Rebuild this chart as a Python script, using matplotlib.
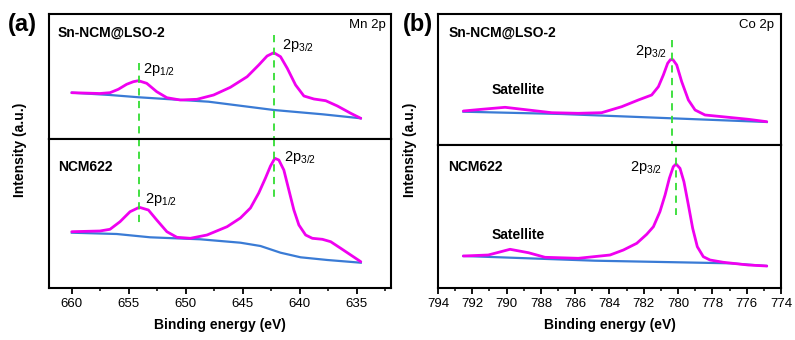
import matplotlib
matplotlib.use("Agg")
import matplotlib.pyplot as plt
from matplotlib.ticker import MultipleLocator

plt.rcParams['font.family'] = ['Liberation Sans', 'DejaVu Sans']
plt.rcParams['mathtext.fontset'] = 'custom'
plt.rcParams['mathtext.rm'] = 'Liberation Sans'
plt.rcParams['mathtext.it'] = 'Liberation Sans'

############################## DATA ##############################
# (a) Mn 2p, Sn-NCM@LSO-2
mn_top_be = [660.0, 657.54, 656.65, 655.92, 655.19, 654.6, 654.16, 653.43, 652.55, 651.66,
             650.49, 649.02, 647.56, 646.09, 644.62, 643.60, 642.87, 642.28, 641.69, 641.10,
             640.37, 639.64, 638.76, 637.73, 636.70, 635.53, 634.65]
mn_top_fit = [46.3, 45.5, 46.3, 49.7, 54.7, 57.3, 58.3, 55.7, 47.3, 41.3,
              39.0, 39.7, 44.0, 51.7, 62.3, 74.0, 83.0, 86.3, 82.3, 70.7,
              54.0, 43.0, 40.0, 38.3, 33.0, 25.7, 20.7]
mn_top_bg_be = [660.0, 656.65, 654.1, 648.0, 642.28, 638.0, 634.65]
mn_top_bg = [46.3, 44.0, 41.7, 37.3, 29.0, 24.7, 20.7]

# (a) Mn 2p, NCM622
mn_bot_be = [660.0, 657.54, 656.65, 655.77, 654.89, 654.08, 653.28, 652.55, 651.66, 650.78,
             649.6, 648.14, 646.38, 645.21, 644.33, 643.60, 643.01, 642.57, 642.19, 641.84,
             641.40, 640.96, 640.52, 640.08, 639.49, 638.90, 638.02, 637.29, 636.41, 635.53,
             634.65]
mn_bot_fit = [56.3, 57.0, 58.7, 66.3, 76.3, 80.7, 78.0, 68.0, 56.3, 50.7,
              49.7, 53.0, 61.3, 70.0, 80.0, 95.0, 110.0, 122.0, 129.7, 128.0,
              118.0, 98.0, 78.0, 63.0, 53.0, 49.7, 48.7, 46.3, 39.7, 33.0,
              26.3]
mn_bot_bg_be = [660.0, 656.06, 653.13, 648.73, 645.21, 643.45, 641.69, 639.93, 637.58, 634.65]
mn_bot_bg = [55.3, 54.0, 50.7, 48.7, 45.3, 42.0, 35.3, 30.7, 28.0, 25.3]

# (b) Co 2p, Sn-NCM@LSO-2
co_top_be = [792.52, 791.45, 790.09, 788.73, 787.37, 785.82, 784.46, 783.29, 782.32, 781.54,
             781.15, 780.86, 780.61, 780.45, 780.30, 780.08, 779.79, 779.40, 779.01, 778.43,
             777.07, 775.91, 774.83]
co_top_fit = [34.0, 35.7, 37.7, 35.0, 32.3, 31.7, 32.3, 38.3, 45.0, 50.0,
              58.3, 70.0, 81.7, 85.3, 85.3, 80.0, 63.3, 45.0, 35.0, 30.0,
              27.7, 25.7, 23.3]
co_top_bg_be = [792.52, 786.8, 780.37, 774.83]
co_top_bg = [33.3, 31.0, 26.7, 23.0]

# (b) Co 2p, NCM622
co_bot_be = [792.52, 791.07, 789.80, 788.73, 787.76, 785.82, 783.97, 783.19, 782.41, 781.83,
             781.44, 781.06, 780.76, 780.51, 780.28, 780.12, 779.89, 779.66, 779.40, 779.15,
             778.88, 778.53, 778.14, 777.36, 775.91, 774.83]
co_bot_fit = [32.0, 33.0, 38.7, 35.3, 30.7, 29.7, 33.0, 38.0, 44.7, 53.7,
              61.3, 76.3, 93.0, 109.7, 121.3, 124.0, 119.7, 106.3, 83.0, 59.7,
              41.3, 31.3, 28.0, 25.7, 23.0, 22.0]
co_bot_bg_be = [792.52, 784.85, 776.97, 774.83]
co_bot_bg = [32.0, 27.3, 24.7, 22.0]

# peak positions (green dashed guides)
mn_peaks = [654.1, 642.25]
co_peak_top = 780.35
co_peak_bot = 780.15
##########################################################################################

magenta = '#f000f0'
blue = '#3a7bd5'
green = '#33dd33'

fig = plt.figure(figsize=(7.95, 3.4), dpi=100)
W, H = 795.0, 340.0


def px_axes(l, r, t, b):
    return fig.add_axes([l / W, 1 - b / H, (r - l) / W, (b - t) / H])


ax_at = px_axes(49, 391, 14, 139)
ax_ab = px_axes(49, 391, 139, 288)
ax_bt = px_axes(438, 781, 14, 145)
ax_bb = px_axes(438, 781, 145, 288)

ax_at.set_ylim(0, 125)
ax_ab.set_ylim(0, 149)
ax_bt.set_ylim(0, 131)
ax_bb.set_ylim(0, 143)

for ax in (ax_at, ax_ab):
    ax.set_xlim(662, 632)
for ax in (ax_bt, ax_bb):
    ax.set_xlim(794, 774)

for ax in (ax_at, ax_ab, ax_bt, ax_bb):
    for s in ax.spines.values():
        s.set_linewidth(1.5)
    ax.set_yticks([])
    ax.tick_params(axis='x', direction='out', width=1.3, length=4, labelsize=9.5, pad=3)
    ax.tick_params(axis='x', which='minor', direction='out', width=1.1, length=2)

for ax in (ax_at, ax_bt):
    ax.set_xticks([])
    ax.tick_params(axis='x', which='both', bottom=False, labelbottom=False)

ax_ab.xaxis.set_major_locator(MultipleLocator(5))
ax_ab.xaxis.set_minor_locator(MultipleLocator(2.5))
ax_bb.xaxis.set_major_locator(MultipleLocator(2))
ax_bb.xaxis.set_minor_locator(MultipleLocator(1))

# curves
fit_kw = dict(color=magenta, lw=2.0, solid_joinstyle='round', solid_capstyle='round')
bg_kw = dict(color=blue, lw=1.6, solid_joinstyle='round')
ax_at.plot(mn_top_bg_be, mn_top_bg, **bg_kw)
ax_at.plot(mn_top_be, mn_top_fit, **fit_kw)
ax_ab.plot(mn_bot_bg_be, mn_bot_bg, **bg_kw)
ax_ab.plot(mn_bot_be, mn_bot_fit, **fit_kw)
ax_bt.plot(co_top_bg_be, co_top_bg, **bg_kw)
ax_bt.plot(co_top_be, co_top_fit, **fit_kw)
ax_bb.plot(co_bot_bg_be, co_bot_bg, **bg_kw)
ax_bb.plot(co_bot_be, co_bot_fit, **fit_kw)

# green guides
dash = dict(color=green, lw=1.3, ls=(0, (4, 3)))
ax_at.plot([mn_peaks[0]] * 2, [76, 0], **dash)
ax_ab.plot([mn_peaks[0]] * 2, [149, 65], **dash)
ax_at.plot([mn_peaks[1]] * 2, [104, 0], **dash)
ax_ab.plot([mn_peaks[1]] * 2, [149, 88], **dash)
ax_bt.plot([co_peak_top] * 2, [105, 0], **dash)
ax_bb.plot([co_peak_bot] * 2, [143, 73], **dash)

# text
bold = dict(fontsize=10, fontweight='bold')
ax_at.text(0.026, 0.85, 'Sn-NCM@LSO-2', transform=ax_at.transAxes, va='center', **bold)
ax_ab.text(0.026, 0.81, 'NCM622', transform=ax_ab.transAxes, va='center', **bold)
ax_bt.text(0.03, 0.855, 'Sn-NCM@LSO-2', transform=ax_bt.transAxes, va='center', **bold)
ax_bb.text(0.03, 0.846, 'NCM622', transform=ax_bb.transAxes, va='center', **bold)
ax_at.text(0.985, 0.91, 'Mn 2p', transform=ax_at.transAxes, ha='right', va='center', fontsize=9.5)
ax_bt.text(0.98, 0.916, 'Co 2p', transform=ax_bt.transAxes, ha='right', va='center', fontsize=9.5)

p12 = '2p$_{\\mathregular{1/2}}$'
p32 = '2p$_{\\mathregular{3/2}}$'
lab = dict(fontsize=10.5, va='center')
ax_at.text(653.75, 69, p12, **lab)
ax_at.text(641.6, 94, p32, **lab)
ax_ab.text(653.6, 88, p12, **lab)
ax_ab.text(641.4, 130, p32, **lab)
ax_bt.text(782.5, 93, p32, **lab)
ax_bb.text(782.8, 120, p32, **lab)
ax_bt.text(790.9, 55, 'Satellite', va='center', **bold)
ax_bb.text(790.9, 53, 'Satellite', va='center', **bold)

ax_ab.set_xlabel('Binding energy (eV)', fontsize=10, fontweight='bold', labelpad=6)
ax_bb.set_xlabel('Binding energy (eV)', fontsize=10, fontweight='bold', labelpad=6)
fig.text(20 / W, 1 - 150 / H, 'Intensity (a.u.)', rotation=90, ha='center', va='center',
         fontsize=10, fontweight='bold')
fig.text(410 / W, 1 - 150 / H, 'Intensity (a.u.)', rotation=90, ha='center', va='center',
         fontsize=10, fontweight='bold')

fig.text(22 / W, 1 - 25 / H, '(a)', ha='center', va='center', fontsize=17, fontweight='bold')
fig.text(418 / W, 1 - 25 / H, '(b)', ha='center', va='center', fontsize=17, fontweight='bold')

fig.savefig('out.png', dpi=100)
